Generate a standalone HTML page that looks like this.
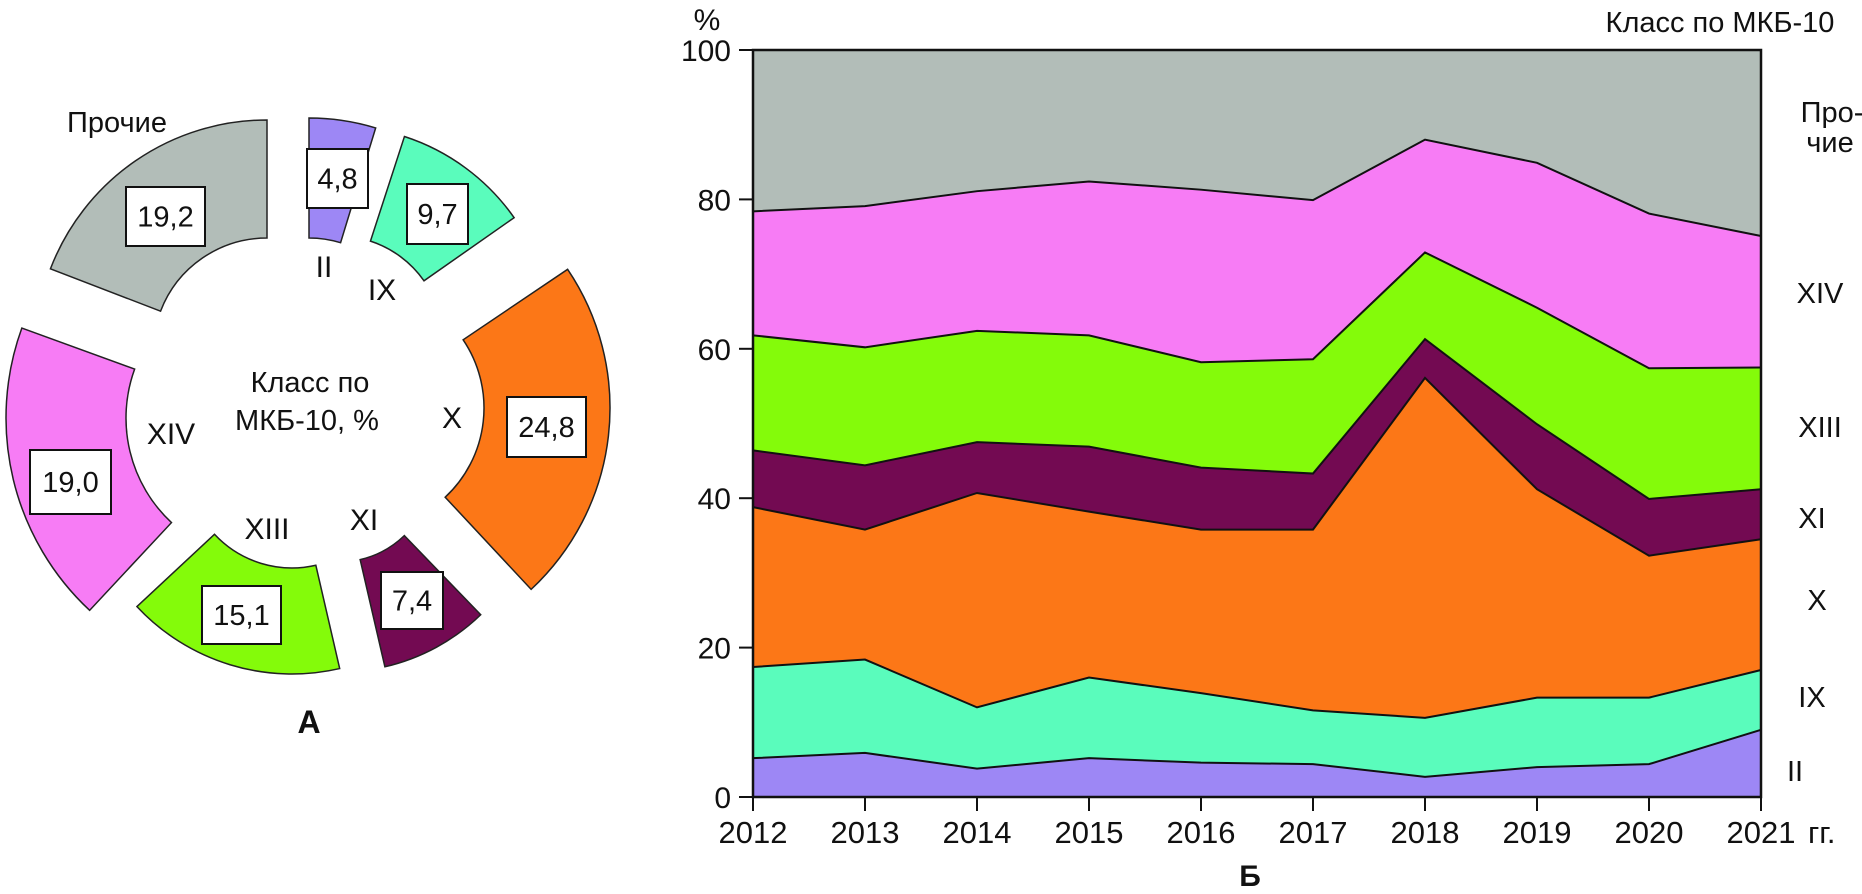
<!DOCTYPE html>
<html><head><meta charset="utf-8"><style>
html,body{margin:0;padding:0;background:#fff;}
svg{display:block;font-family:"Liberation Sans","DejaVu Sans",sans-serif;}
</style></head><body>
<svg id="chart" width="1862" height="894" viewBox="0 0 1862 894" xmlns="http://www.w3.org/2000/svg">
<g id="donut"></g>
<g id="area"></g>
</svg>
<script>
// ---------- Panel A: donut ----------
const sliceNames = ["II","IX","X","XI","XIII","XIV","Прочие"];
const sliceValues = [4.8, 9.7, 24.8, 7.4, 15.1, 19.0, 19.2];
const sliceLabels = ["4,8","9,7","24,8","7,4","15,1","19,0","19,2"];
const sliceColors = ["#9d87f5","#5afcbc","#fc7717","#730a52","#84fb0a","#f77cf5","#b2bdb8"];
// geometry (layout, not data): center, radii, angles in degrees
const sliceGeom = [
  {cx:309,cy:346,ri:108,ro:228,a0:0,a1:17},
  {cx:338,cy:341,ri:105,ro:215,a0:18,a1:55},
  {cx:362,cy:408,ri:122,ro:248,a0:56,a1:137},
  {cx:339,cy:468,ri:94,ro:204,a0:136,a1:167},
  {cx:292,cy:462,ri:106,ro:212,a0:167,a1:227},
  {cx:269,cy:418,ri:143,ro:263,a0:223,a1:290},
  {cx:267,cy:352,ri:114,ro:232,a0:291,a1:360}
];
const boxPos = [[307,149,61,59],[407,184,61,60],[507,397,79,60],[381,572,62,57],[202,586,79,58],[30,450,81,64],[126,187,79,59]];
const romanPos = [[324,266],[382,289],[452,417],[364,519],[267,528],[171,433]];
const NS="http://www.w3.org/2000/svg";
function mk(tag, attrs, parent){const e=document.createElementNS(NS,tag);for(const k in attrs)e.setAttribute(k,attrs[k]);parent.appendChild(e);return e;}
function pt(cx,cy,r,a){const t=a*Math.PI/180;return [cx+r*Math.sin(t), cy-r*Math.cos(t)];}
const dg=document.getElementById('donut');
sliceValues.forEach((v,i)=>{
  const g=sliceGeom[i];
  const p1=pt(g.cx,g.cy,g.ro,g.a0),p2=pt(g.cx,g.cy,g.ro,g.a1),p3=pt(g.cx,g.cy,g.ri,g.a1),p4=pt(g.cx,g.cy,g.ri,g.a0);
  const d=`M${p1} A${g.ro},${g.ro} 0 0 1 ${p2} L${p3} A${g.ri},${g.ri} 0 0 0 ${p4} Z`;
  const path=mk('path',{d:d,fill:sliceColors[i],stroke:'#222','stroke-width':1.5},dg);
  
  
  const b=boxPos[i];
  const rect=mk('rect',{x:b[0],y:b[1],width:b[2],height:b[3],fill:'#fff',stroke:'#111','stroke-width':2},dg);
  
  
  const t=mk('text',{x:b[0]+b[2]/2,y:b[1]+b[3]/2+10,'text-anchor':'middle','font-size':29,fill:'#111'},dg);
  t.textContent=sliceLabels[i];
  
  
  if(i<6){
    const r=mk('text',{x:romanPos[i][0],y:romanPos[i][1]+11,'text-anchor':'middle','font-size':30,fill:'#111'},dg);
    r.textContent=sliceNames[i];
    
    
  }
});
function txt(parent,x,y,s,size,anchor,name,weight){
  const t=mk('text',{x:x,y:y,'text-anchor':anchor||'middle','font-size':size,fill:'#111'},parent);
  if(weight)t.setAttribute('font-weight',weight);
  t.textContent=s;
  
  
  return t;
}
txt(dg,117,132,"Прочие",29,'middle','class-label-other');
txt(dg,310,392,"Класс по",29,'middle','donut-center-title-1');
txt(dg,307,430,"МКБ-10, %",29,'middle','donut-center-title-2');
txt(dg,309,733,"А",32,'middle','panel-a-label','bold');

// ---------- Panel B: stacked area ----------
const years = [2012,2013,2014,2015,2016,2017,2018,2019,2020,2021];
const seriesII   = [5.2,5.9,3.8,5.2,4.6,4.4,2.7,4.0,4.4,9.0];
const seriesIX   = [12.2,12.5,8.2,10.8,9.3,7.2,7.9,9.3,8.9,8.0];
const seriesX    = [21.4,17.4,28.7,22.2,21.9,24.2,45.5,27.9,19.0,17.5];
const seriesXI   = [7.6,8.6,6.8,8.7,8.3,7.5,5.2,8.7,7.6,6.7];
const seriesXIII = [15.4,15.8,14.9,14.9,14.1,15.3,11.6,15.6,17.5,16.3];
const seriesXIV  = [16.6,18.9,18.7,20.6,23.1,21.3,15.1,19.4,20.7,17.6];
const yTicks = [0,20,40,60,80,100];
const seriesList = [seriesII,seriesIX,seriesX,seriesXI,seriesXIII,seriesXIV];
const areaNames = ["II","IX","X","XI","XIII","XIV","Прочие"];
const areaColors = ["#9d87f5","#5afcbc","#fc7717","#730a52","#84fb0a","#f77cf5","#b2bdb8"];
const X0=753,X1=1761,Y0=797,Y1=50;
const xs=i=>X0+(X1-X0)*i/(years.length-1);
const ys=v=>Y0-(Y0-Y1)*v/100;
const ag=document.getElementById('area');
let lower=years.map(()=>0);
const tops=[];
for(let s=0;s<=seriesList.length;s++){
  const upper = s<seriesList.length ? lower.map((l,i)=>l+seriesList[s][i]) : years.map(()=>100);
  tops.push(upper);
  let d='M'+years.map((y,i)=>xs(i)+','+ys(upper[i])).join(' L');
  for(let i=years.length-1;i>=0;i--) d+=' L'+xs(i)+','+ys(lower[i]);
  d+=' Z';
  const p=mk('path',{d:d,fill:areaColors[s],stroke:'none'},ag);
  
  
  lower=upper;
}
for(let s=0;s<seriesList.length;s++){
  const l=mk('polyline',{points:years.map((y,i)=>xs(i)+','+ys(tops[s][i])).join(' '),fill:'none',stroke:'#111','stroke-width':2},ag);
  
  
}
const frame=mk('rect',{x:X0,y:Y1,width:X1-X0,height:Y0-Y1,fill:'none',stroke:'#111','stroke-width':2.5},ag);


yTicks.forEach(v=>{
  const tk=mk('line',{x1:X0-14,x2:X0,y1:ys(v),y2:ys(v),stroke:'#111','stroke-width':2},ag);
  
  
  txt(ag,731,ys(v)+11,String(v),30,'end','y-tick-label-'+v);
});
years.forEach((y,i)=>{
  const tk=mk('line',{x1:xs(i),x2:xs(i),y1:Y0,y2:Y0+14,stroke:'#111','stroke-width':2},ag);
  
  
  txt(ag,xs(i),Y0+46,String(y),31,'middle','x-tick-label-'+y);
});
txt(ag,1808,Y0+46,"гг.",31,'start','x-axis-unit');
txt(ag,707,30,"%",30,'middle','y-axis-title');
txt(ag,1720,32,"Класс по МКБ-10",29,'middle','legend-title');
txt(ag,1832,122,"Про-",29,'middle','legend-label-other-1');
txt(ag,1830,152,"чие",29,'middle','legend-label-other-2');
txt(ag,1820,303,"XIV",29,'middle','legend-label-xiv');
txt(ag,1820,437,"XIII",29,'middle','legend-label-xiii');
txt(ag,1812,528,"XI",29,'middle','legend-label-xi');
txt(ag,1817,610,"X",29,'middle','legend-label-x');
txt(ag,1812,707,"IX",29,'middle','legend-label-ix');
txt(ag,1795,781,"II",29,'middle','legend-label-ii');
txt(ag,1250,886,"Б",30,'middle','panel-b-label','bold');
</script>
</body></html>
